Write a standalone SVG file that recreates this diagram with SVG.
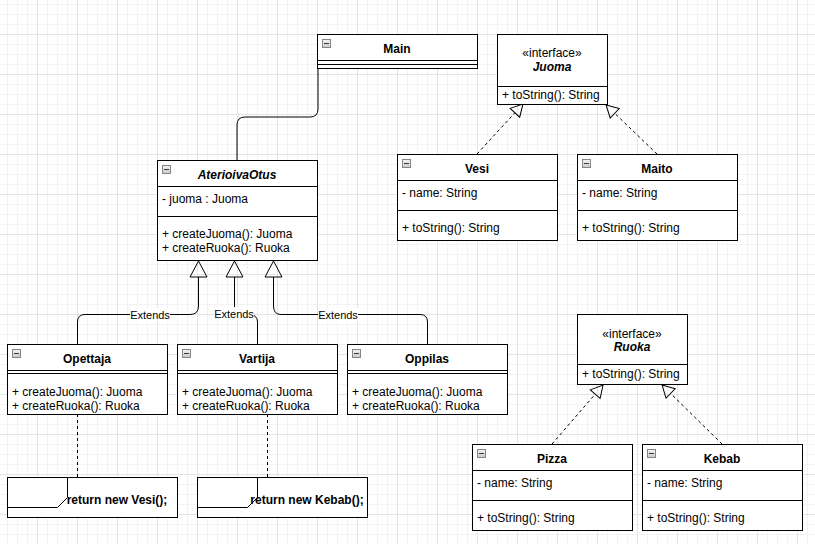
<svg xmlns="http://www.w3.org/2000/svg" xmlns:xlink="http://www.w3.org/1999/xlink" width="815" height="544" viewBox="0 0 815 544">
  <style>
    text { font-family: "Liberation Sans", Arial, Helvetica, sans-serif; font-size: 12px; fill: #000; }
    .title { font-weight: bold; text-anchor: middle; }
    .abstract { font-weight: bold; font-style: italic; text-anchor: middle; }
    .stereo { text-anchor: middle; }
    .lbl { font-size: 11px; text-anchor: middle; }
    .box { fill: #fff; stroke: #000; stroke-width: 1; }
    .sep { stroke: #000; stroke-width: 1; fill: none; }
    .edge { fill: none; stroke: #000; stroke-width: 1; }
    .dashed { fill: none; stroke: #000; stroke-width: 1; stroke-dasharray: 3 3; }
    .lblbg { fill: #fff; }
  </style>
  <defs>
    <pattern id="grid" patternUnits="userSpaceOnUse" x="37" y="34" width="40" height="40">
      <rect width="40" height="40" fill="#fff"/>
      <path d="M10.5,0 V40 M20.5,0 V40 M30.5,0 V40 M0,10.5 H40 M0,20.5 H40 M0,30.5 H40" stroke="#f3f3f3" stroke-width="1"/>
      <path d="M0.5,0 V40 M0,0.5 H40" stroke="#e4e4e4" stroke-width="1"/>
    </pattern>
    <linearGradient id="iconFill" x1="0" y1="0" x2="0" y2="1">
      <stop offset="0" stop-color="#f4f4f4"/>
      <stop offset="1" stop-color="#c8c8c8"/>
    </linearGradient>
    <g id="collapse">
      <rect x="0.5" y="0.5" width="8" height="8" fill="url(#iconFill)" stroke="#858585"/>
      <path d="M2,4.5 H7" stroke="#3a3a3a" stroke-width="1"/>
    </g>
    <marker id="realize" markerUnits="userSpaceOnUse" markerWidth="14" markerHeight="16" viewBox="0 -7 14 14" refX="0" refY="0" orient="auto" overflow="visible">
      <path d="M0,-6.5 L12,0 L0,6.5 Z" fill="none" stroke="#000" stroke-width="1"/>
    </marker>
    <marker id="extends" markerUnits="userSpaceOnUse" markerWidth="18" markerHeight="18" viewBox="0 -9 18 18" refX="0" refY="0" orient="auto" overflow="visible">
      <path d="M0,-8.5 L16,0 L0,8.5 Z" fill="none" stroke="#000" stroke-width="1"/>
    </marker>
  </defs>

  <rect width="815" height="544" fill="url(#grid)"/>

  <!-- connectors -->
  <g id="connectors">
    <!-- Main to AterioivaOtus -->
    <path class="edge" d="M318,68 V109 Q318,117 310,117 H245 Q237,117 237,125 V160"/>
    <!-- realizations of Juoma -->
    <path class="dashed" d="M477,154 L514.9,112.8" marker-end="url(#realize)"/>
    <path class="dashed" d="M657,154 L614.7,113.3" marker-end="url(#realize)"/>
    <!-- realizations of Ruoka -->
    <path class="dashed" d="M552,444 L595.2,394.1" marker-end="url(#realize)"/>
    <path class="dashed" d="M722,444 L670.6,393.4" marker-end="url(#realize)"/>
    <!-- inheritance from AterioivaOtus -->
    <path class="edge" d="M77.5,344 V322 Q77.5,314.5 85,314.5 H190 Q198.5,314.5 198.5,306 V277" marker-end="url(#extends)"/>
    <path class="edge" d="M257.5,344 V322 Q257.5,314.5 249,314.5 H234.5 V277" marker-end="url(#extends)"/>
    <path class="edge" d="M427.5,344 V322 Q427.5,314.5 420,314.5 H281 Q273.5,314.5 273.5,306 V277" marker-end="url(#extends)"/>
    <rect class="lblbg" x="130" y="308" width="40" height="13"/>
    <text class="lbl" x="150" y="319">Extends</text>
    <rect class="lblbg" x="214" y="307" width="40" height="13"/>
    <text class="lbl" x="234" y="318">Extends</text>
    <rect class="lblbg" x="318" y="308" width="40" height="13"/>
    <text class="lbl" x="338" y="319">Extends</text>
    <!-- note anchors -->
    <path class="dashed" d="M77.5,414 V477"/>
    <path class="dashed" d="M267.5,414 V477"/>
  </g>

  <g id="main">
    <rect class="box" x="317.5" y="34.5" width="160" height="34"/>
    <path class="sep" d="M317.5,60.5 H477.5 M317.5,64.5 H477.5"/>
    <use href="#collapse" x="322" y="39"/>
    <text class="title" x="397" y="53">Main</text>
  </g>

  <g id="juoma">
    <rect class="box" x="497.5" y="34.5" width="110" height="70"/>
    <path class="sep" d="M497.5,86.5 H607.5"/>
    <text class="stereo" x="552" y="57">«interface»</text>
    <text class="abstract" x="552" y="71">Juoma</text>
    <text x="502" y="99">+ toString(): String</text>
  </g>

  <g id="aterioivaotus">
    <rect class="box" x="157.5" y="160.5" width="160" height="100"/>
    <path class="sep" d="M157.5,186.5 H317.5 M157.5,216.5 H317.5"/>
    <use href="#collapse" x="162" y="165"/>
    <text class="abstract" x="237" y="179">AterioivaOtus</text>
    <text x="162" y="203">- juoma : Juoma</text>
    <text x="162" y="238">+ createJuoma(): Juoma</text>
    <text x="162" y="252">+ createRuoka(): Ruoka</text>
  </g>

  <g id="vesi">
    <rect class="box" x="397.5" y="154.5" width="160" height="86"/>
    <path class="sep" d="M397.5,180.5 H557.5 M397.5,210.5 H557.5"/>
    <use href="#collapse" x="402" y="159"/>
    <text class="title" x="477" y="173">Vesi</text>
    <text x="402" y="197">- name: String</text>
    <text x="402" y="232">+ toString(): String</text>
  </g>

  <g id="maito">
    <rect class="box" x="577.5" y="154.5" width="160" height="86"/>
    <path class="sep" d="M577.5,180.5 H737.5 M577.5,210.5 H737.5"/>
    <use href="#collapse" x="582" y="159"/>
    <text class="title" x="657" y="173">Maito</text>
    <text x="582" y="197">- name: String</text>
    <text x="582" y="232">+ toString(): String</text>
  </g>

  <g id="opettaja">
    <rect class="box" x="7.5" y="344.5" width="160" height="70"/>
    <path class="sep" d="M7.5,370.5 H167.5 M7.5,373.5 H167.5"/>
    <use href="#collapse" x="12" y="349"/>
    <text class="title" x="87" y="363">Opettaja</text>
    <text x="12" y="396">+ createJuoma(): Juoma</text>
    <text x="12" y="410">+ createRuoka(): Ruoka</text>
  </g>

  <g id="vartija">
    <rect class="box" x="177.5" y="344.5" width="160" height="70"/>
    <path class="sep" d="M177.5,370.5 H337.5 M177.5,373.5 H337.5"/>
    <use href="#collapse" x="182" y="349"/>
    <text class="title" x="257" y="363">Vartija</text>
    <text x="182" y="396">+ createJuoma(): Juoma</text>
    <text x="182" y="410">+ createRuoka(): Ruoka</text>
  </g>

  <g id="oppilas">
    <rect class="box" x="347.5" y="344.5" width="160" height="70"/>
    <path class="sep" d="M347.5,370.5 H507.5 M347.5,373.5 H507.5"/>
    <use href="#collapse" x="352" y="349"/>
    <text class="title" x="427" y="363">Oppilas</text>
    <text x="352" y="396">+ createJuoma(): Juoma</text>
    <text x="352" y="410">+ createRuoka(): Ruoka</text>
  </g>

  <g id="ruoka">
    <rect class="box" x="577.5" y="314.5" width="110" height="70"/>
    <path class="sep" d="M577.5,364.5 H687.5"/>
    <text class="stereo" x="632" y="338">«interface»</text>
    <text class="abstract" x="632" y="351">Ruoka</text>
    <text x="582" y="378">+ toString(): String</text>
  </g>

  <g id="pizza">
    <rect class="box" x="472.5" y="444.5" width="160" height="86"/>
    <path class="sep" d="M472.5,470.5 H632.5 M472.5,500.5 H632.5"/>
    <use href="#collapse" x="477" y="449"/>
    <text class="title" x="552" y="463">Pizza</text>
    <text x="477" y="487">- name: String</text>
    <text x="477" y="522">+ toString(): String</text>
  </g>

  <g id="kebab">
    <rect class="box" x="642.5" y="444.5" width="160" height="86"/>
    <path class="sep" d="M642.5,470.5 H802.5 M642.5,500.5 H802.5"/>
    <use href="#collapse" x="647" y="449"/>
    <text class="title" x="722" y="463">Kebab</text>
    <text x="647" y="487">- name: String</text>
    <text x="647" y="522">+ toString(): String</text>
  </g>

  <g id="note-vesi">
    <rect class="box" x="7.5" y="477.5" width="170" height="40"/>
    <path class="sep" d="M7.5,507.5 H57.5 L67.5,497.5 V477.5"/>
    <text class="title" x="117" y="504">return new Vesi();</text>
  </g>

  <g id="note-kebab">
    <rect class="box" x="197.5" y="477.5" width="170" height="40"/>
    <path class="sep" d="M197.5,507.5 H247.5 L257.5,497.5 V477.5"/>
    <text class="title" x="307" y="504">return new Kebab();</text>
  </g>
</svg>
